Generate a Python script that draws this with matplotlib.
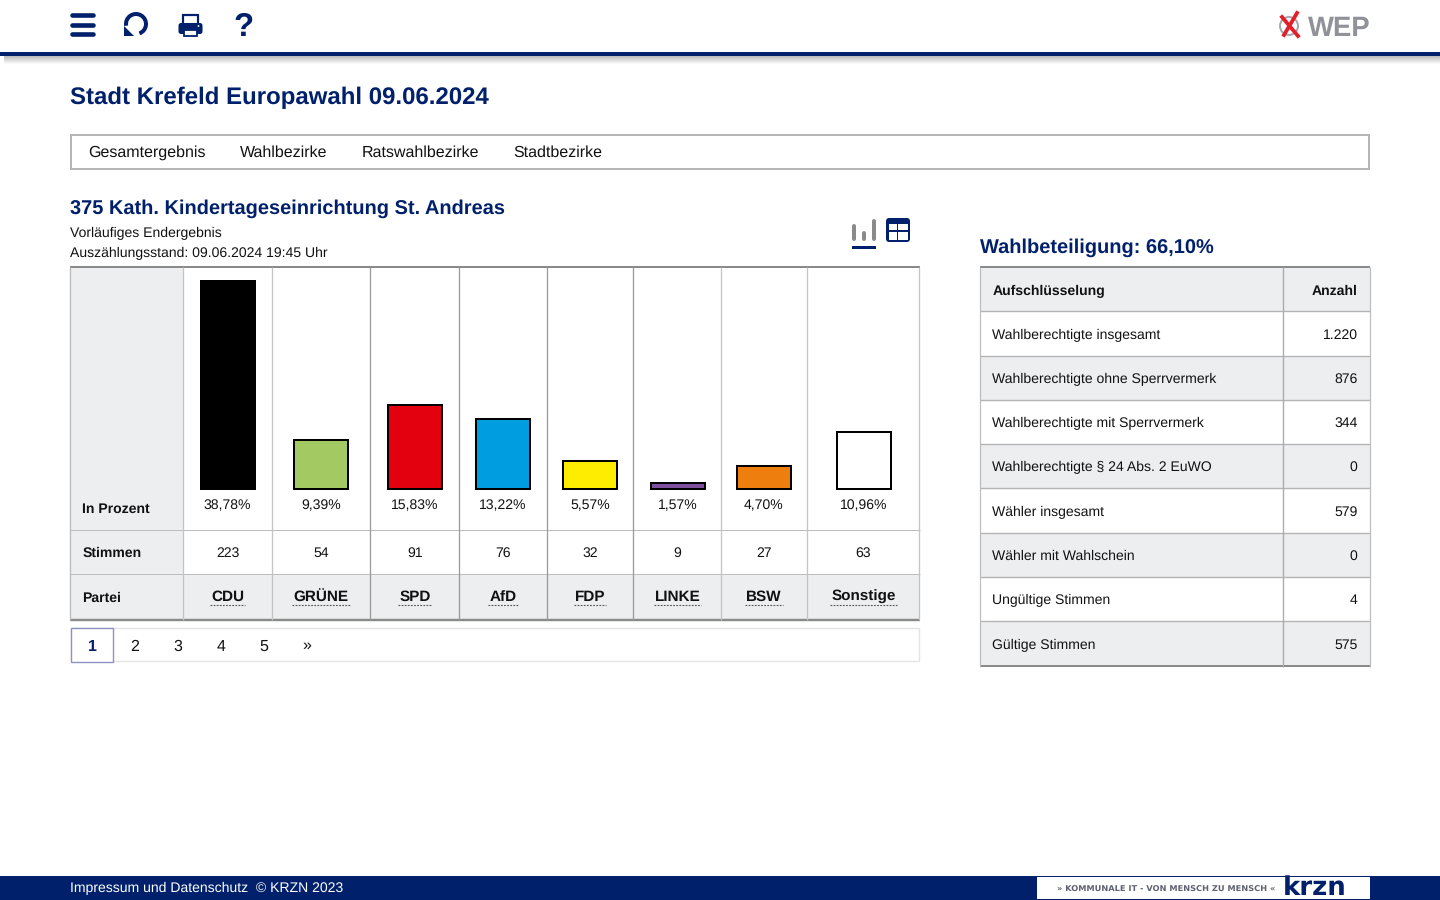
#!/usr/bin/env python3
"""
Stadt Krefeld Europawahl - Ergebnis Wahlbezirk 375
"""
import numpy as np
import matplotlib
matplotlib.use('Agg')
import matplotlib.pyplot as plt
from matplotlib.patches import Rectangle, FancyBboxPatch, Arc, Polygon, Circle

plt.rcParams['font.family'] = ['Liberation Sans', 'DejaVu Sans']
plt.rcParams['text.hinting'] = 'no_hinting'

NAVY = '#00206b'
GREY_BG = '#eceeef'
LINE = '#bdbdbd'
DARK_LINE = '#8a8a8a'

# Daten
parteien = ['CDU', 'GRÜNE', 'SPD', 'AfD', 'FDP', 'LINKE', 'BSW', 'Sonstige']
prozent = [38.78, 9.39, 15.83, 13.22, 5.57, 1.57, 4.70, 10.96]
stimmen = [223, 54, 91, 76, 32, 9, 27, 63]
farben = ['#000000', '#a3c963', '#e3000f', '#009ee0', '#ffed00', '#7d4f9e', '#ee7f0e', '#ffffff']

aufschluesselung = ['Wahlberechtigte insgesamt', 'Wahlberechtigte ohne Sperrvermerk',
                    'Wahlberechtigte mit Sperrvermerk', 'Wahlberechtigte § 24 Abs. 2 EuWO',
                    'Wähler insgesamt', 'Wähler mit Wahlschein',
                    'Ungültige Stimmen', 'Gültige Stimmen']
anzahl = ['1.220', '876', '344', '0', '579', '0', '4', '575']

menue = ['Gesamtergebnis', 'Wahlbezirke', 'Ratswahlbezirke', 'Stadtbezirke']
seiten = ['1', '2', '3', '4', '5', '»']

# Spaltengrenzen der Tabelle (Pixel)
spalten = [183, 272, 370, 459, 547, 633, 721, 807, 919]
mitten = [227.5, 321, 414.8, 503, 590, 677.5, 764, 863.5]

fig = plt.figure(figsize=(14.4, 9), dpi=100, facecolor='white')
ax = fig.add_axes([0, 0, 1, 1])
ax.set_xlim(0, 1440)
ax.set_ylim(900, 0)
ax.axis('off')


def rect(x0, y0, x1, y1, color, z=1, **kw):
    ax.add_patch(Rectangle((x0, y0), x1 - x0, y1 - y0, facecolor=color, edgecolor='none', zorder=z, **kw))


def hline(x0, x1, y, color=LINE, px=1.0, z=2):
    ax.plot([x0, x1], [y, y], color=color, lw=px * 0.72, solid_capstyle='butt', zorder=z)


def vline(x, y0, y1, color=LINE, px=1.0, z=2):
    ax.plot([x, x], [y0, y1], color=color, lw=px * 0.72, solid_capstyle='butt', zorder=z)


def txt(x, y, s, px=14, color='#111111', weight='normal', ha='left', **kw):
    # auf der Grundlinie setzen, sonst springt die Hoehe je nach Unterlaengen
    return ax.text(x, y + 0.36 * px + 0.3, s, fontsize=px * 0.72, color=color, fontweight=weight,
                   ha=ha, va='baseline', zorder=5, **kw)


# Kopfzeile mit Schatten
for i in range(9):
    rect(4, 56 + i, 1440, 57 + i, str(min(1.0, 0.74 + 0.034 * i)), z=1)
rect(0, 52, 1440, 56, NAVY, z=2)

# Menue-Symbole
for y in [15, 24.5, 34]:
    ax.plot([72, 93], [y, y], color=NAVY, lw=4.6 * 0.72, solid_capstyle='round', zorder=3)
ax.add_patch(Arc((136, 24), 20, 20, theta1=170, theta2=430, color=NAVY, lw=4 * 0.72, zorder=3))
ax.add_patch(Polygon([[124, 26], [134, 36], [124, 36]], facecolor=NAVY, edgecolor='none', zorder=3))
# Drucker
ax.add_patch(Rectangle((183, 15), 15, 10, facecolor='white', edgecolor=NAVY, lw=2.2 * 0.72, zorder=3))
ax.add_patch(FancyBboxPatch((178.5, 23), 24, 11, boxstyle='round,pad=0,rounding_size=2.5', facecolor=NAVY, edgecolor='none', zorder=4))
ax.add_patch(Rectangle((184, 29.5), 13, 6, facecolor='white', edgecolor=NAVY, lw=1.8 * 0.72, zorder=5))
ax.add_patch(Circle((198.5, 26), 0.9, facecolor='white', edgecolor='none', zorder=5))
txt(243.5, 24, '?', px=33, color=NAVY, weight='bold', ha='center')

# WEP Logo
ax.add_patch(Circle((1289, 26), 9, facecolor='none', edgecolor='#a5a8ad', lw=2 * 0.72, zorder=3))
ax.plot([1282, 1298], [17, 36], color='#e2202c', lw=3.8 * 0.72, zorder=4)
ax.plot([1297, 1284], [13, 35], color='#e2202c', lw=3.8 * 0.72, zorder=4)
txt(1308, 26, 'WEP', px=27.5, color='#8f9298', weight='bold')

# Titel
txt(70, 94.7, 'Stadt Krefeld Europawahl 09.06.2024', px=24, color=NAVY, weight='bold')

# Navigation
ax.add_patch(Rectangle((71, 135), 1298, 34, facecolor='white', edgecolor='#b5b5b5', lw=2 * 0.72, zorder=1))
for x, s in zip([88.5, 240, 362, 513], menue):
    txt(x, 151, s, px=16)

# Abschnitt links
txt(70, 206, '375 Kath. Kindertageseinrichtung St. Andreas', px=20, color=NAVY, weight='bold')
txt(70, 232, 'Vorläufiges Endergebnis')
txt(70, 252, 'Auszählungsstand: 09.06.2024 19:45 Uhr')

# Umschalter Grafik / Tabelle
for x, top in zip([854, 864, 874], [224, 231, 219]):
    ax.plot([x, x], [top + 2, 239], color='#8a8a8a', lw=4 * 0.72, solid_capstyle='round', zorder=3)
rect(852, 246, 876, 249, NAVY, z=3)
ax.add_patch(FancyBboxPatch((886, 218), 24, 24, boxstyle='round,pad=0,rounding_size=3', facecolor=NAVY, edgecolor='none', zorder=3))
rect(888.5, 224, 896.5, 230, 'white', z=4)
rect(898, 224, 907.5, 230, 'white', z=4)
rect(888.5, 231.5, 896.5, 239.5, 'white', z=4)
rect(898, 231.5, 907.5, 239.5, 'white', z=4)

# Ergebnistabelle
rect(71, 268, 183, 619, GREY_BG)
rect(71, 574, 919, 619, GREY_BG)
hline(70, 919.5, 267, DARK_LINE, 2)
hline(70, 919.5, 530)
hline(70, 919.5, 574)
hline(70, 919.5, 619.5, DARK_LINE, 2.4)
vline(70, 267, 620, LINE, 1.4)
for x in spalten:
    dunkel = x in (370, 459, 547, 633)
    vline(x, 267, 620, '#9a9a9a' if dunkel else '#c4c4c4', 1.3)

txt(82.5, 508, 'In Prozent', weight='bold')
txt(82.5, 552, 'Stimmen', weight='bold')
txt(82.5, 596.5, 'Partei', weight='bold')

for m, p, st, name in zip(mitten, prozent, stimmen, parteien):
    txt(m, 504, f'{p:.2f}'.replace('.', ',') + '%', ha='center')
    txt(m, 552, str(st), ha='center')
    t = txt(m, 595.5, name, px=15.2, weight='bold', ha='center')
    breite = t.get_window_extent(fig.canvas.get_renderer()).width
    ax.plot([m - breite / 2 - 1, m + breite / 2 + 1], [604.5, 604.5], color='#555555', lw=0.8,
            linestyle=(0, (1.6, 1.2)), zorder=4)

# Balken: eigene Achse, 0 % liegt auf y = 490 px
skala = 5.41
ax_bar = fig.add_axes([0, (900 - 490) / 900, 1, 222 / 900])
ax_bar.set_xlim(0, 1440)
ax_bar.set_ylim(0, 222 / skala)
ax_bar.axis('off')
ax_bar.patch.set_alpha(0)
balken = ax_bar.bar(mitten, prozent, width=56, color=farben, edgecolor='black', linewidth=4 * 0.72)
# Rand nur nach innen zeichnen, die Balkenhoehe schliesst den Rand ein
for b in balken:
    b.set_clip_path(b)

# Seitenleiste
ax.add_patch(Rectangle((70.5, 628), 848.5, 33, facecolor='white', edgecolor='#e4e4e4', lw=1.4 * 0.72, zorder=1))
ax.add_patch(Rectangle((71, 628), 41.5, 33.5, facecolor='white', edgecolor='#8c92c4', lw=1.4 * 0.72, zorder=2))
for x, s in zip([92, 135, 178, 221, 264, 306.5], seiten):
    if s == '1':
        txt(x, 644.5, s, px=16, color=NAVY, weight='bold', ha='center')
    else:
        txt(x, 644.5, s, px=16, ha='center')

# Wahlbeteiligung
txt(980, 245, 'Wahlbeteiligung: 66,10%', px=20, color=NAVY, weight='bold')

zeilen_y = [267, 311, 356, 400, 444, 488, 533, 577, 621, 666]
rect(981, 268, 1370, 311, GREY_BG)
for i in range(8):
    if i % 2 == 1:
        rect(981, zeilen_y[i + 1], 1370, zeilen_y[i + 2], GREY_BG)
hline(980, 1370, 267, DARK_LINE, 2)
for y in zeilen_y[1:-1]:
    hline(980, 1370, y, '#b4b4b4', 1.4)
hline(980, 1370, 666, DARK_LINE, 2)
vline(980, 267, 667, LINE, 1.2)
vline(1283, 267, 667, '#adadad', 1.4)
vline(1369.5, 267, 667, LINE, 1.2)

txt(992.5, 289.5, 'Aufschlüsselung', weight='bold')
txt(1357.5, 289.5, 'Anzahl', weight='bold', ha='right')
for i, (name, wert) in enumerate(zip(aufschluesselung, anzahl)):
    y = (zeilen_y[i + 1] + zeilen_y[i + 2]) / 2
    txt(992.5, y, name)
    txt(1357.5, y, wert, ha='right')

# Fusszeile
rect(0, 876, 1440, 900, NAVY, z=1)
rect(1037, 877, 1370, 899, 'white', z=2)
txt(70, 887, 'Impressum und Datenschutz  © KRZN 2023', px=14.05, color='white')
txt(1057, 888.5, '» KOMMUNALE IT - VON MENSCH ZU MENSCH «', px=8.3, color='#5d6270', weight='bold',
    family=['DejaVu Sans'])
txt(1283, 885.5, 'krzn', px=26, color=NAVY, weight='bold', family=['DejaVu Sans'])

plt.savefig('out.png', dpi=100)
